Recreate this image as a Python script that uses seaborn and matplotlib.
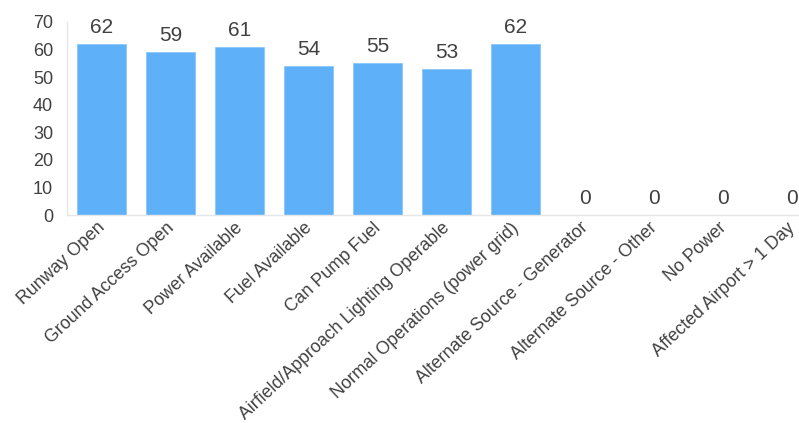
import matplotlib
matplotlib.use("Agg")
import matplotlib.pyplot as plt
import matplotlib.transforms as mtransforms
import seaborn as sns
import pandas as pd

categories = ["Runway Open", "Ground Access Open", "Power Available", "Fuel Available",
              "Can Pump Fuel", "Airfield/Approach Lighting Operable",
              "Normal Operations (power grid)", "Alternate Source - Generator",
              "Alternate Source - Other", "No Power", "Affected Airport > 1 Day"]
values = [62, 59, 61, 54, 55, 53, 62, 0, 0, 0, 0]

sns.set_style("white")
plt.rcParams['font.family'] = ['Liberation Sans', 'DejaVu Sans']

df = pd.DataFrame({"cat": categories, "val": values})

fig = plt.figure(figsize=(7.99, 4.23), dpi=100)
ax = fig.add_axes([0.0839, 0.4917, 0.9161, 0.4563])
sns.barplot(data=df, x="cat", y="val", color="#5eb0f8", saturation=1, width=0.71, ax=ax)
for p in ax.patches:
    p.set_edgecolor("#8cc8fa")
    p.set_linewidth(0.6)

ax.set_ylim(0, 70)
ax.set_xlim(-0.5, 10.1)
ax.set_yticks(range(0, 71, 10))
ax.set_xlabel("")
ax.set_ylabel("")
txt = "#404040"
ax.tick_params(axis='y', length=0, pad=10, labelsize=13, labelcolor=txt)
ax.tick_params(axis='x', length=0, pad=3, labelsize=12.8, labelcolor=txt)
offset = mtransforms.ScaledTranslation(-5 / 100, 0, fig.dpi_scale_trans)
for lbl in ax.get_xticklabels():
    lbl.set_rotation(43)
    lbl.set_ha('right')
    lbl.set_rotation_mode('anchor')
    lbl.set_transform(lbl.get_transform() + offset)

for s in ["top", "right"]:
    ax.spines[s].set_visible(False)
for s in ["left", "bottom"]:
    ax.spines[s].set_color("#e6e6e6")
    ax.spines[s].set_linewidth(1)

for c in ax.containers:
    ax.bar_label(c, padding=5, fontsize=15, color=txt)

fig.savefig("out.png", dpi=100)
